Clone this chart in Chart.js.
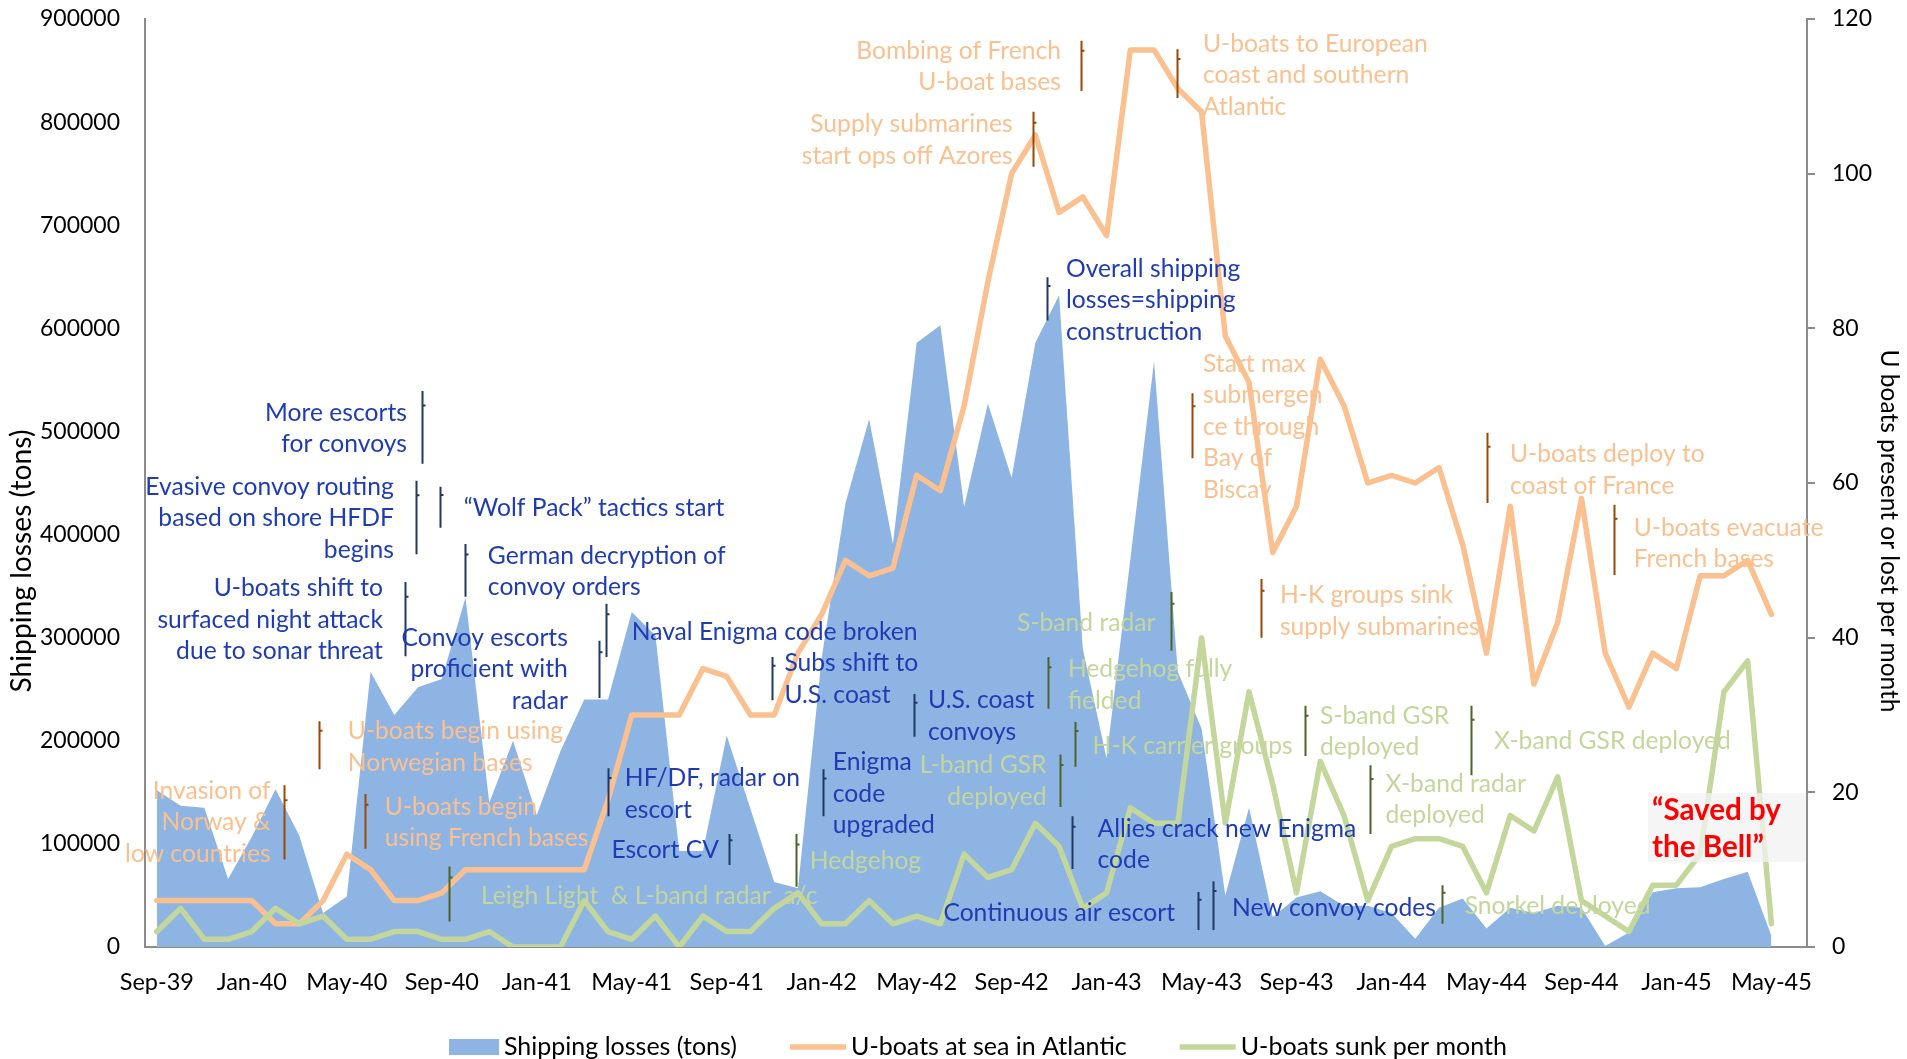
<!DOCTYPE html>
<html>
<head>
<meta charset="utf-8">
<script src="https://cdn.jsdelivr.net/npm/chart.js@4.4.1/dist/chart.umd.min.js"></script>
<style>
html,body{margin:0;padding:0;background:#fff;}
#wrap{width:1907px;height:1059px;position:relative;}
canvas{display:block;}
</style>
</head>
<body>
<div id="wrap"><canvas id="c" width="1907" height="1059"></canvas></div>
<script>
// ---------------- DATA ----------------
const months = ['Sep-39','Oct-39','Nov-39','Dec-39','Jan-40','Feb-40','Mar-40','Apr-40','May-40','Jun-40','Jul-40','Aug-40',
 'Sep-40','Oct-40','Nov-40','Dec-40','Jan-41','Feb-41','Mar-41','Apr-41','May-41','Jun-41','Jul-41','Aug-41',
 'Sep-41','Oct-41','Nov-41','Dec-41','Jan-42','Feb-42','Mar-42','Apr-42','May-42','Jun-42','Jul-42','Aug-42',
 'Sep-42','Oct-42','Nov-42','Dec-42','Jan-43','Feb-43','Mar-43','Apr-43','May-43','Jun-43','Jul-43','Aug-43',
 'Sep-43','Oct-43','Nov-43','Dec-43','Jan-44','Feb-44','Mar-44','Apr-44','May-44','Jun-44','Jul-44','Aug-44',
 'Sep-44','Oct-44','Nov-44','Dec-44','Jan-45','Feb-45','Mar-45','Apr-45','May-45','Jun-45'];

const xTickLabels = ['Sep-39','Jan-40','May-40','Sep-40','Jan-41','May-41','Sep-41','Jan-42','May-42','Sep-42',
 'Jan-43','May-43','Sep-43','Jan-44','May-44','Sep-44','Jan-45','May-45'];

const leftTicks = [0,100000,200000,300000,400000,500000,600000,700000,800000,900000];
const rightTicks = [0,20,40,60,80,100,120];

const shippingLosses = [152000,137000,135000,66000,107000,153000,108000,33000,49000,267000,225000,252000,
 260000,339000,140000,200000,128000,190000,240000,240000,325000,302000,93000,93000,
 205000,134000,63000,57000,280000,430000,512000,391000,586000,603000,427000,527000,
 455000,586000,632000,289000,183000,376000,568000,267000,212000,50000,135000,29000,
 48000,54000,40000,40000,33000,8000,38000,47000,18000,38000,33000,40000,
 38000,1000,14000,53000,57000,58000,66000,73000,11000,null];

const uboatsAtSea = [6,6,6,6,6,3,3,6,12,10,6,6,
 7,10,10,10,10,10,10,19,30,30,30,36,
 35,30,30,38,43,50,48,49,61,59,70,86,
 100,105,95,97,92,116,116,111,108,79,73,51,
 57,76,70,60,61,60,62,52,38,57,34,42,
 58,38,31,38,36,48,48,50,43,null];

const uboatsSunk = [2,5,1,1,2,5,3,4,1,1,2,2,
 1,1,2,0,0,0,6,2,1,4,0,4,
 2,2,5,7,3,3,6,3,4,3,12,9,
 10,16,13,5,7,18,16,16,40,16,33,21,
 7,24,17,6,13,14,14,13,7,17,15,22,
 6,4,2,8,8,12,33,37,3,null];

const seriesNames = ['Shipping losses (tons)','U-boats at sea in Atlantic','U-boats sunk per month'];
const axisTitles = ['Shipping losses (tons)','U boats present or lost per month'];

// annotations: m = month index, v = right-axis units; bracket at bm from b1 to b2
const annotations = [
 {g:'b', lines:['More escorts','for convoys'], align:'right', m:10.53, v:69.05, bm:11.15, b1:71.9, b2:62.5},
 {g:'b', lines:['Evasive convoy routing','based on shore HFDF','begins'], align:'right', m:9.98, v:59.5, bm:10.91, b1:60.3, b2:50.8},
 {g:'b', lines:['\u201CWolf Pack\u201D tactics start'], align:'left', m:12.93, v:56.8, bm:11.92, b1:59.5, b2:54.2},
 {g:'b', lines:['German decryption of','convoy orders'], align:'left', m:13.94, v:50.6, bm:12.97, b1:52.1, b2:45.3},
 {g:'b', lines:['U-boats shift to','surfaced night attack','due to sonar threat'], align:'right', m:9.52, v:46.4, bm:10.45, b1:47.2, b2:37.6},
 {g:'b', lines:['Convoy escorts','proficient with','radar'], align:'right', m:17.31, v:40.0, bm:18.62, b1:39.6, b2:32.2},
 {g:'b', lines:['Naval Enigma code broken'], align:'left', m:20.0, v:40.7, bm:18.91, b1:44.4, b2:37.5},
 {g:'b', lines:['HF/DF, radar on','escort'], align:'left', m:19.71, v:21.8, bm:19.0, b1:23.1, b2:16.9},
 {g:'b', lines:['Escort CV'], align:'right', m:23.67, v:12.5, bm:24.09, b1:14.6, b2:10.6},
 {g:'b', lines:['Subs shift to','U.S. coast'], align:'left', m:26.43, v:36.7, bm:25.9, b1:37.5, b2:31.9},
 {g:'b', lines:['U.S. coast','convoys'], align:'left', m:32.48, v:31.9, bm:31.89, b1:32.7, b2:27.2},
 {g:'b', lines:['Enigma','code','upgraded'], align:'left', m:28.47, v:23.9, bm:28.05, b1:23.0, b2:16.9},
 {g:'b', lines:['Overall shipping','losses=shipping','construction'], align:'left', m:38.29, v:87.7, bm:37.49, b1:86.6, b2:81.0},
 {g:'b', lines:['Allies crack new Enigma','code'], align:'left', m:39.62, v:15.3, bm:38.54, b1:16.9, b2:10.1},
 {g:'b', lines:['Continuous air escort'], align:'right', m:42.88, v:4.4, bm:43.85, b1:7.1, b2:2.2},
 {g:'b', lines:['New convoy codes'], align:'left', m:45.28, v:5.0, bm:44.48, b1:8.5, b2:2.2},
 {g:'o', lines:['Invasion of','Norway &','low countries'], align:'right', m:4.79, v:20.2, bm:5.37, b1:20.9, b2:11.3},
 {g:'o', lines:['U-boats begin using','Norwegian bases'], align:'left', m:8.04, v:27.9, bm:6.82, b1:29.2, b2:23.0},
 {g:'o', lines:['U-boats begin','using French bases'], align:'left', m:9.6, v:18.1, bm:8.76, b1:19.8, b2:12.7},
 {g:'o', lines:['Bombing of French','U-boat bases'], align:'right', m:38.08, v:115.9, bm:38.92, b1:117.2, b2:110.7},
 {g:'o', lines:['Supply submarines','start ops off Azores'], align:'right', m:36.04, v:106.4, bm:36.9, b1:108.0, b2:100.9},
 {g:'o', lines:['U-boats to European','coast and southern','Atlantic'], align:'left', m:44.06, v:116.8, bm:42.97, b1:116.1, b2:109.8},
 {g:'o', lines:['Start max','submergen','ce through','Bay of','Biscay'], align:'left', m:44.06, v:75.4, bm:43.58, b1:71.6, b2:63.2},
 {g:'o', lines:['U-boats deploy to','coast of France'], align:'left', m:56.99, v:63.7, bm:56.02, b1:66.5, b2:57.4},
 {g:'o', lines:['U-boats evacuate','French bases'], align:'left', m:62.2, v:54.2, bm:61.36, b1:57.2, b2:48.1},
 {g:'o', lines:['H-K groups sink','supply submarines'], align:'left', m:47.3, v:45.5, bm:46.5, b1:47.6, b2:40.0},
 {g:'g', lines:['Leigh Light  & L-band radar  a/c'], align:'left', m:13.65, v:6.6, bm:12.3, b1:10.4, b2:3.3},
 {g:'g', lines:['Hedgehog'], align:'left', m:27.5, v:11.1, bm:26.92, b1:14.6, b2:7.8},
 {g:'g', lines:['S-band radar'], align:'right', m:42.06, v:41.9, bm:42.71, b1:45.9, b2:38.3},
 {g:'g', lines:['Hedgehog fully','fielded'], align:'left', m:38.37, v:35.9, bm:37.52, b1:37.5, b2:30.8},
 {g:'g', lines:['L-band GSR','deployed'], align:'right', m:37.47, v:23.5, bm:38.04, b1:24.9, b2:18.1},
 {g:'g', lines:['H-K carrier groups'], align:'left', m:39.41, v:26.0, bm:38.67, b1:29.1, b2:23.3},
 {g:'g', lines:['S-band GSR','deployed'], align:'left', m:48.99, v:29.9, bm:48.34, b1:31.2, b2:24.7},
 {g:'g', lines:['X-band radar','deployed'], align:'left', m:51.75, v:21.1, bm:51.1, b1:23.5, b2:14.6},
 {g:'g', lines:['X-band GSR deployed'], align:'left', m:56.32, v:26.6, bm:55.33, b1:31.2, b2:22.2},
 {g:'g', lines:['Snorkel deployed'], align:'left', m:55.08, v:5.3, bm:54.13, b1:8.0, b2:3.0}
];
const callout = {lines:['\u201CSaved by','the Bell\u201D'], m1:62.8, m2:69.46, v1:19.9, v2:11.0, tm:62.97, tv:17.6};

// ---------------- STYLE ----------------
const C_AREA = '#8EB4E3', C_ORANGE = '#FAC090', C_GREEN = '#C3D69B';
const TXT = {b:'#1F3CB5', o:'#FAC090', g:'#C3D69B'};
const BRK = {b:'#1F3864', o:'#984807', g:'#4F6228'};
const FONT = 'Lato, "Open Sans", sans-serif';
const AXIS_C = '#8C8C8C';

// font sizes fitted to the reference's text widths
const mctx = document.createElement('canvas').getContext('2d');
function fitSize(text, target, weight){
  mctx.font = (weight ? weight + ' ' : '') + '100px ' + FONT;
  return 100 * target / mctx.measureText(text).width;
}
let F_ANN, F_LEG, F_BELL, F_TL, F_TR;

const overlay = {
  id:'overlay',
  afterDraw(chart){
    const ctx = chart.ctx, xs = chart.scales.x, ys = chart.scales.y1, ca = chart.chartArea;
    ctx.save();
    annotations.forEach(a=>{
      const bx = Math.round(xs.getPixelForValue(a.bm))+0.5;
      const by1 = ys.getPixelForValue(a.b1), by2 = ys.getPixelForValue(a.b2);
      ctx.strokeStyle = BRK[a.g]; ctx.lineWidth = 2;
      ctx.beginPath(); ctx.moveTo(bx, by1); ctx.lineTo(bx, by2);
      const ty = by1 + (by2-by1)*0.2;
      ctx.moveTo(bx, ty); ctx.lineTo(bx+3, ty);
      ctx.stroke();
      ctx.fillStyle = TXT[a.g];
      ctx.font = F_ANN.toFixed(2) + 'px ' + FONT;
      ctx.textAlign = a.align; ctx.textBaseline = 'middle';
      const tx = xs.getPixelForValue(a.m), y0 = ys.getPixelForValue(a.v);
      a.lines.forEach((ln,i)=>ctx.fillText(ln, tx, y0 + i*31.5));
    });
    // callout
    const x1 = xs.getPixelForValue(callout.m1), x2 = xs.getPixelForValue(callout.m2);
    const y1 = ys.getPixelForValue(callout.v1), y2 = ys.getPixelForValue(callout.v2);
    ctx.fillStyle = 'rgba(242,242,242,0.78)';
    ctx.fillRect(x1, y1, x2-x1, y2-y1);
    ctx.fillStyle = '#FF0000'; ctx.font = 'bold ' + F_BELL.toFixed(2) + 'px ' + FONT;
    ctx.textAlign = 'left'; ctx.textBaseline = 'middle';
    const cx0 = xs.getPixelForValue(callout.tm), cy0 = ys.getPixelForValue(callout.tv);
    callout.lines.forEach((ln,i)=>ctx.fillText(ln, cx0, cy0 + i*37));
    // axis titles
    ctx.fillStyle = '#000'; ctx.textAlign='center'; ctx.textBaseline='middle';
    ctx.font = F_TL.toFixed(2) + 'px ' + FONT;
    ctx.save(); ctx.translate(22, 561); ctx.rotate(-Math.PI/2); ctx.fillText(axisTitles[0],0,0); ctx.restore();
    ctx.font = F_TR.toFixed(2) + 'px ' + FONT;
    ctx.save(); ctx.translate(1889, 531); ctx.rotate(Math.PI/2); ctx.fillText(axisTitles[1],0,0); ctx.restore();
    // legend
    ctx.font = F_LEG.toFixed(2) + 'px ' + FONT; ctx.textAlign='left'; ctx.textBaseline='middle';
    const mws = [50, 56, 56], gapT = 5, gapI = 53, ly = 1047;
    const widths = seriesNames.map(s=>ctx.measureText(s).width);
    const total = widths.reduce((s,w,i)=>s+mws[i]+gapT+w,0) + gapI*2;
    let lx = (ca.left+ca.right)/2 - total/2 + 2;
    seriesNames.forEach((s,i)=>{
      const mw = mws[i];
      if(i===0){ ctx.fillStyle = C_AREA; ctx.fillRect(lx, ly-8, mw, 16); }
      else { ctx.strokeStyle = i===1?C_ORANGE:C_GREEN; ctx.lineWidth=5.5; ctx.beginPath(); ctx.moveTo(lx,ly); ctx.lineTo(lx+mw,ly); ctx.stroke(); }
      ctx.fillStyle = '#000'; ctx.fillText(s, lx+mw+gapT, ly);
      lx += mw+gapT+widths[i]+gapI;
    });
    ctx.restore();
  }
};

function fitV(w){ return s=>{ s.width = w; s.paddingTop = 0; s.paddingBottom = 0; }; }

function build(){
  F_ANN = fitSize('Naval Enigma code broken', 286);
  F_LEG = fitSize(seriesNames[0], 233);
  F_BELL = fitSize('\u201CSaved by', 129, 'bold');
  F_TL = fitSize(axisTitles[0], 263);
  F_TR = fitSize(axisTitles[1], 363);
  new Chart(document.getElementById('c').getContext('2d'), {
    type:'line',
    data:{ labels: months, datasets:[
      {label:seriesNames[0], data:shippingLosses, yAxisID:'y', fill:'origin', backgroundColor:C_AREA, borderColor:C_AREA, borderWidth:0, pointRadius:0, tension:0, order:3},
      {label:seriesNames[1], data:uboatsAtSea, yAxisID:'y1', fill:false, borderColor:C_ORANGE, borderWidth:5.5, pointRadius:0, tension:0, borderJoinStyle:'round', borderCapStyle:'round', order:2},
      {label:seriesNames[2], data:uboatsSunk, yAxisID:'y1', fill:false, borderColor:C_GREEN, borderWidth:5.5, pointRadius:0, tension:0, borderJoinStyle:'round', borderCapStyle:'round', order:1}
    ]},
    options:{
      responsive:false, animation:false, devicePixelRatio:1,
      layout:{padding:{left:0,right:0,top:19,bottom:0}},
      plugins:{legend:{display:false}, tooltip:{enabled:false}, title:{display:false}},
      scales:{
        x:{ offset:true, z:1,
          grid:{display:false, drawTicks:false},
          border:{display:true, color:AXIS_C, width:2},
          ticks:{autoSkip:false, maxRotation:0, minRotation:0, padding:21, color:'#000', font:{family:FONT, size:23.5},
            callback:(v,i)=> xTickLabels.includes(months[i]) ? months[i] : ''},
          afterFit:s=>{s.height=112; s.paddingLeft = 0; s.paddingRight = 0;} },
        y:{ position:'left', min:0, max:900000,
          grid:{display:false, drawTicks:false},
          border:{display:true, color:AXIS_C, width:2},
          afterBuildTicks:s=>{s.ticks = leftTicks.map(v=>({value:v}));},
          ticks:{padding:25, color:'#000', font:{family:FONT, size:23}, callback:v=>String(v)},
          afterFit:fitV(145) },
        y1:{ position:'right', min:0, max:120,
          grid:{display:true, drawOnChartArea:false, drawTicks:true, tickLength:8, color:AXIS_C, lineWidth:2},
          border:{display:true, color:AXIS_C, width:2},
          afterBuildTicks:s=>{s.ticks = rightTicks.map(v=>({value:v}));},
          ticks:{padding:17, color:'#000', font:{family:FONT, size:23}, callback:v=>String(v)},
          afterFit:fitV(100) }
      }
    },
    plugins:[overlay]
  });
}
if (document.fonts && document.fonts.load) {
  Promise.all([document.fonts.load('24px Lato'), document.fonts.load('bold 27px Lato')]).then(build, build);
} else build();
</script>
</body>
</html>
